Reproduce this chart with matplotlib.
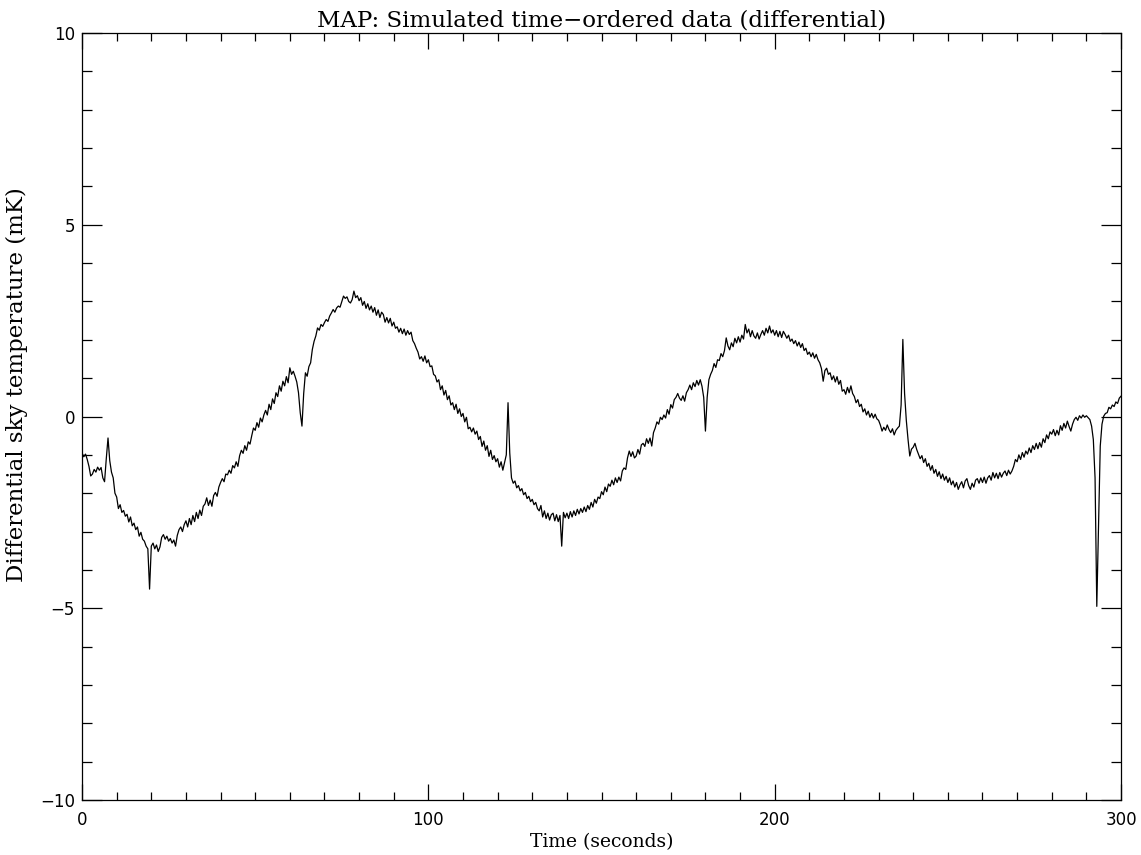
import matplotlib
matplotlib.use("Agg")
import matplotlib.pyplot as plt
import numpy as np
from matplotlib.ticker import MultipleLocator

# sample spacing of the time-ordered data (seconds)
SAMPLE_STEP = 0.5

# differential sky temperature (mK), one row per 10 s of data
temp_mk = [
    -0.95, -1.05, -0.98, -1.12, -1.30, -1.55, -1.50, -1.38, -1.45, -1.32,
    -1.40, -1.33, -1.60, -1.70, -1.10, -0.56, -1.15, -1.45, -1.60, -2.00,
    -2.10, -2.40, -2.30, -2.50, -2.45, -2.60, -2.55, -2.75, -2.62, -2.85,
    -2.78, -2.95, -2.88, -3.12, -3.02, -3.20, -3.25, -3.38, -3.45, -4.50,
    -3.38, -3.30, -3.45, -3.35, -3.52, -3.40, -3.15, -3.08, -3.20, -3.12,
    -3.25, -3.18, -3.30, -3.22, -3.38, -3.10, -2.95, -2.88, -3.00, -2.82,
    -2.72, -2.88, -2.66, -2.82, -2.58, -2.74, -2.50, -2.66, -2.44, -2.58,
    -2.34, -2.28, -2.12, -2.32, -2.18, -2.34, -2.06, -1.98, -2.08, -1.84,
    -1.72, -1.62, -1.70, -1.50, -1.52, -1.40, -1.48, -1.28, -1.34, -1.18,
    -1.30, -1.02, -0.88, -0.96, -0.76, -0.88, -0.66, -0.72, -0.50, -0.30,
    -0.36, -0.16, -0.28, -0.04, -0.14, 0.04, 0.16, 0.04, 0.32, 0.18,
    0.46, 0.34, 0.62, 0.52, 0.80, 0.66, 0.92, 0.80, 1.04, 0.88,
    1.27, 1.10, 1.18, 1.05, 0.90, 0.62, 0.10, -0.25, 0.60, 1.14,
    1.05, 1.30, 1.40, 1.75, 1.96, 2.10, 2.31, 2.25, 2.40, 2.35,
    2.45, 2.53, 2.48, 2.62, 2.70, 2.79, 2.72, 2.83, 2.88, 2.85,
    3.00, 3.14, 3.08, 3.12, 3.00, 2.96, 3.05, 3.27, 3.10, 3.15,
    3.02, 3.10, 2.90, 3.00, 2.82, 2.94, 2.78, 2.88, 2.72, 2.84,
    2.64, 2.78, 2.58, 2.72, 2.66, 2.46, 2.58, 2.44, 2.56, 2.36,
    2.46, 2.30, 2.34, 2.20, 2.30, 2.16, 2.28, 2.12, 2.24, 2.14,
    2.20, 1.98, 1.90, 1.78, 1.68, 1.50, 1.56, 1.44, 1.58, 1.40,
    1.48, 1.30, 1.32, 1.10, 1.06, 0.90, 0.96, 0.70, 0.80, 0.56,
    0.68, 0.44, 0.54, 0.30, 0.36, 0.18, 0.32, 0.08, 0.20, 0.00,
    0.08, -0.14, -0.02, -0.32, -0.28, -0.40, -0.30, -0.46, -0.38, -0.60,
    -0.52, -0.78, -0.64, -0.88, -0.76, -1.04, -0.88, -1.12, -1.02, -1.18,
    -1.10, -1.32, -1.18, -1.40, -1.20, -1.00, 0.36, -0.95, -1.60, -1.74,
    -1.68, -1.86, -1.80, -1.94, -1.88, -2.04, -1.98, -2.14, -2.08, -2.22,
    -2.16, -2.30, -2.24, -2.40, -2.46, -2.32, -2.62, -2.46, -2.66, -2.52,
    -2.70, -2.56, -2.52, -2.72, -2.56, -2.74, -2.58, -3.38, -2.50, -2.64,
    -2.52, -2.66, -2.48, -2.62, -2.46, -2.58, -2.42, -2.54, -2.40, -2.50,
    -2.36, -2.48, -2.32, -2.42, -2.24, -2.36, -2.16, -2.26, -2.10, -2.14,
    -1.96, -2.04, -1.84, -1.96, -1.76, -1.82, -1.66, -1.78, -1.60, -1.72,
    -1.58, -1.68, -1.42, -1.34, -1.38, -1.08, -0.90, -1.04, -0.92, -1.08,
    -1.03, -0.86, -0.98, -0.74, -0.70, -0.78, -0.58, -0.70, -0.56, -0.77,
    -0.42, -0.30, -0.14, -0.20, -0.02, -0.08, 0.04, -0.04, 0.18, 0.06,
    0.31, 0.22, 0.44, 0.50, 0.60, 0.48, 0.42, 0.54, 0.40, 0.62,
    0.70, 0.82, 0.70, 0.88, 0.78, 0.94, 0.82, 0.96, 0.79, 0.50,
    -0.38, 0.50, 0.96, 1.10, 1.20, 1.38, 1.28, 1.48, 1.46, 1.64,
    1.56, 1.72, 2.05, 1.84, 1.74, 1.92, 1.82, 2.04, 1.92, 2.08,
    1.94, 2.12, 2.02, 2.40, 2.18, 2.28, 2.08, 2.24, 2.10, 2.04,
    2.18, 2.02, 2.14, 2.24, 2.12, 2.30, 2.18, 2.36, 2.18, 2.26,
    2.12, 2.24, 2.08, 2.22, 2.06, 2.22, 2.14, 2.04, 2.12, 1.96,
    2.02, 1.90, 1.98, 1.84, 1.94, 1.80, 1.90, 1.72, 1.78, 1.62,
    1.68, 1.56, 1.66, 1.52, 1.62, 1.48, 1.40, 1.25, 0.92, 1.20,
    1.26, 1.10, 1.14, 0.96, 1.06, 0.90, 1.04, 0.84, 0.94, 0.66,
    0.70, 0.58, 0.76, 0.62, 0.80, 0.60, 0.52, 0.36, 0.44, 0.26,
    0.32, 0.12, 0.20, 0.04, 0.14, -0.02, 0.08, -0.04, 0.06, -0.06,
    -0.10, -0.22, -0.38, -0.28, -0.36, -0.22, -0.34, -0.42, -0.32, -0.48,
    -0.36, -0.30, -0.25, 0.30, 2.01, 0.60, -0.10, -0.60, -1.03, -0.85,
    -0.80, -0.70, -0.86, -0.98, -1.10, -1.02, -1.20, -1.10, -1.30, -1.22,
    -1.40, -1.28, -1.48, -1.38, -1.56, -1.44, -1.62, -1.50, -1.66, -1.56,
    -1.72, -1.60, -1.78, -1.68, -1.84, -1.72, -1.90, -1.78, -1.70, -1.86,
    -1.68, -1.62, -1.80, -1.90, -1.74, -1.84, -1.66, -1.62, -1.74, -1.60,
    -1.72, -1.58, -1.74, -1.60, -1.54, -1.66, -1.46, -1.60, -1.48, -1.62,
    -1.46, -1.58, -1.48, -1.42, -1.54, -1.40, -1.50, -1.42, -1.30, -1.12,
    -1.18, -1.00, -1.12, -0.94, -1.06, -0.90, -0.98, -0.82, -0.94, -0.76,
    -0.86, -0.70, -0.84, -0.68, -0.80, -0.58, -0.68, -0.48, -0.58, -0.40,
    -0.46, -0.34, -0.50, -0.36, -0.48, -0.24, -0.36, -0.18, -0.30, -0.12,
    -0.26, -0.38, -0.20, -0.08, -0.02, -0.10, 0.02, -0.04, 0.04, -0.02,
    0.02, -0.03, -0.08, -0.25, -0.60, -1.60, -4.95, -2.80, -0.77, -0.20,
    0.01, 0.08, 0.10, 0.24, 0.20, 0.30, 0.26, 0.38, 0.34, 0.48,
    0.53,
]

time_s = np.arange(len(temp_mk)) * SAMPLE_STEP

serif = ["DejaVu Serif"]

fig = plt.figure(figsize=(11.41, 8.55), dpi=100)
ax = fig.add_axes([0.0719, 0.0643, 0.9106, 0.8971])

ax.plot(time_s, temp_mk, color="black", lw=0.9)

ax.set_xlim(0, 300)
ax.set_ylim(-10, 10)
ax.xaxis.set_major_locator(MultipleLocator(100))
ax.xaxis.set_minor_locator(MultipleLocator(10))
ax.yaxis.set_major_locator(MultipleLocator(5))
ax.yaxis.set_minor_locator(MultipleLocator(1))

ax.tick_params(axis="both", which="both", direction="in",
               top=True, right=True, width=0.9, colors="black")
ax.tick_params(axis="x", which="major", length=11.5, labelsize=12, pad=8)
ax.tick_params(axis="x", which="minor", length=5.8)
ax.tick_params(axis="y", which="major", length=14.4, labelsize=12, pad=5)
ax.tick_params(axis="y", which="minor", length=7.2)
for s in ax.spines.values():
    s.set_linewidth(0.9)

ax.set_xlabel("Time (seconds)", family=serif, fontsize=13.5, labelpad=3)
ax.set_ylabel("Differential sky temperature (mK)", family=serif,
              fontsize=16.5)
ax.yaxis.set_label_coords(-0.052, 0.542)
ax.set_title("MAP: Simulated time\u2212ordered data (differential)",
             family=serif, fontsize=16.5, pad=5)

fig.savefig("out.png", dpi=100)
